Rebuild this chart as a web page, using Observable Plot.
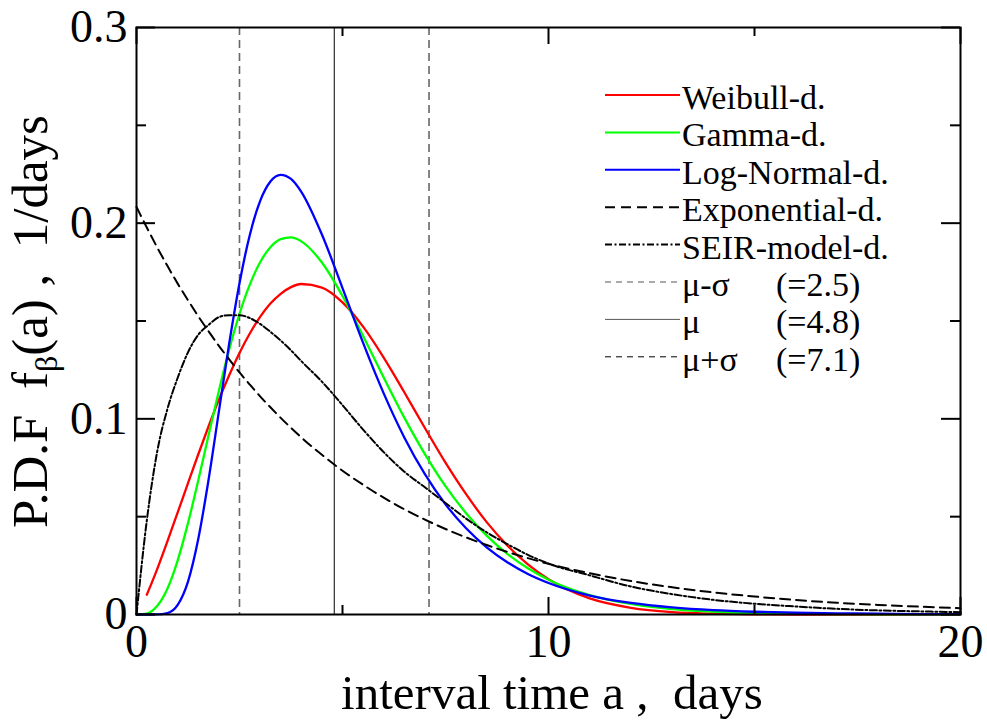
<!DOCTYPE html>
<html><head><meta charset="utf-8">
<script src="https://cdn.jsdelivr.net/npm/d3@7"></script>
<script src="https://cdn.jsdelivr.net/npm/@observablehq/plot@0.6"></script>
<style>
body{margin:0;background:#fff;}
#chart{position:relative;width:987px;height:722px;}
svg text{white-space:pre;}
</style></head><body><div id="chart"></div>
<script>
// interval time a (days)
const xDays = [0,0.25,0.5,0.75,1,1.25,1.5,1.75,2,2.25,2.5,2.75,3,3.25,3.5,3.75,4,4.5,5,5.5,6,6.5,7,7.5,8,8.5,9,9.5,10,11,12,13,14,15,16,17,18,19,20];
const weibull = [null,0.0101,0.0231,0.0374,0.0522,0.0671,0.0819,0.0962,0.1098,0.1223,0.1337,0.1436,0.1521,0.1589,0.1639,0.1673,0.1689,0.1671,0.1595,0.1471,0.1313,0.1136,0.0953,0.0776,0.0615,0.0472,0.0353,0.0256,0.0180,0.0082,0.0034,0.0012,0.0004,0.0001,0,0,0,0,0];
const gamma = [0,0.0005,0.0043,0.0132,0.0277,0.0467,0.0686,0.0917,0.1144,0.1354,0.1537,0.1686,0.1800,0.1877,0.1918,0.1927,0.1907,0.1799,0.1628,0.1423,0.1211,0.1006,0.0820,0.0656,0.0518,0.0403,0.0310,0.0236,0.0178,0.0099,0.0054,0.0028,0.0015,0.0007,0.0004,0.0002,0.0001,0.00004,0.00002];
const logNormal = [0,0,0.00002,0.0007,0.0049,0.0168,0.0387,0.0690,0.1038,0.1385,0.1693,0.1940,0.2113,0.2213,0.2247,0.2226,0.2160,0.1942,0.1668,0.1388,0.1130,0.0905,0.0717,0.0563,0.0441,0.0343,0.0267,0.0207,0.0161,0.0097,0.0059,0.0036,0.0022,0.0014,0.0009,0.0006,0.0004,0.0002,0.00015];
const exponential = [0.2083,0.1978,0.1877,0.1782,0.1691,0.1606,0.1524,0.1447,0.1373,0.1304,0.1237,0.1175,0.1115,0.1059,0.1005,0.0954,0.0905,0.0816,0.0735,0.0663,0.0597,0.0538,0.0485,0.0437,0.0394,0.0355,0.0320,0.0288,0.0259,0.0211,0.0171,0.0139,0.0113,0.0092,0.0074,0.0060,0.0049,0.0040,0.0032];
const seir = [0,0.048,0.083,0.105,0.121,0.134,0.143,0.148,0.152,0.153,0.153,0.1515,0.1485,0.1445,0.1400,0.1350,0.1295,0.119,0.107,0.0945,0.083,0.073,0.065,0.057,0.049,0.042,0.036,0.0305,0.026,0.020,0.0143,0.0104,0.0075,0.0055,0.0041,0.0029,0.0021,0.0016,0.0012];

const seriesNames = ["Weibull-d.","Gamma-d.","Log-Normal-d.","Exponential-d.","SEIR-model-d."];
const seriesValues = [weibull, gamma, logNormal, exponential, seir];

// reference lines mu-sigma, mu, mu+sigma
const refNames = ["μ-σ","μ","μ+σ"];
const refValues = [2.5, 4.8, 7.1];
const refLabels = ["(=2.5)","(=4.8)","(=7.1)"];

// ticks
const xMajor = [0,10,20];
const xMinor = [5,15];
const xTickLabels = ["0","10","20"];
const yMajor = [0,0.1,0.2,0.3];
const yMinor = [0.05,0.15,0.25];
const yTickLabels = ["0","0.1","0.2","0.3"];

const xTitle = "interval time a ,  days";
const yTitleParts = ["P.D.F  f","β","(a) ,  1/days"];

// styles
const FONT = "'Liberation Serif','Times New Roman',serif";
const seriesStyles = [
  {stroke:"#ff0000", strokeWidth:2.3},
  {stroke:"#00ff00", strokeWidth:2.3},
  {stroke:"#0000ff", strokeWidth:2.3},
  {stroke:"#000", strokeWidth:2, strokeDasharray:"10,6"},
  {stroke:"#000", strokeWidth:2, strokeDasharray:"7,2.5,2,2.5"}
];
const refStyles = [
  {stroke:"#666", strokeWidth:1.6, strokeDasharray:"8,5"},
  {stroke:"#000", strokeWidth:1, strokeDasharray:null},
  {stroke:"#666", strokeWidth:1.6, strokeDasharray:"8,5"}
];
const legendRefStyles = [
  {stroke:"#555", strokeWidth:1, strokeDasharray:"6,5"},
  {stroke:"#555", strokeWidth:1, strokeDasharray:null},
  {stroke:"#000", strokeWidth:1, strokeDasharray:"6,5"}
];

const W = 987, H = 722, mL = 136, mR = 27, mT = 27, mB = 108;
const innerW = W - mL - mR, innerH = H - mT - mB;

const lineMarks = seriesValues.map((vals, i) => {
  const rows = xDays.map((x, j) => ({x, y: vals[j]})).filter(d => d.y != null);
  return Plot.line(rows, {x:"x", y:"y", curve:"monotone-x", ...seriesStyles[i]});
});
const refMarks = refValues.map((v, i) => Plot.ruleX([v], {...refStyles[i]}));

const plot = Plot.plot({
  width: W, height: H,
  marginLeft: mL, marginRight: mR, marginTop: mT, marginBottom: mB,
  style: {fontFamily: FONT, fontSize: "46px", background: "#fff", color: "#000"},
  x: {domain:[0,20]},
  y: {domain:[0,0.3]},
  marks: [
    ...refMarks,
    ...lineMarks,
    Plot.frame({stroke:"#000", strokeWidth:2}),
    Plot.tickX(xMajor, {x:d=>d, insetTop: innerH-17, strokeWidth:2}),
    Plot.tickX(xMinor, {x:d=>d, insetTop: innerH-9, strokeWidth:2}),
    Plot.tickX(xMajor, {x:d=>d, insetBottom: innerH-17, strokeWidth:2}),
    Plot.tickX(xMinor, {x:d=>d, insetBottom: innerH-9, strokeWidth:2}),
    Plot.tickY(yMajor, {y:d=>d, insetRight: innerW-19, strokeWidth:2}),
    Plot.tickY(yMinor, {y:d=>d, insetRight: innerW-10, strokeWidth:2}),
    Plot.tickY(yMajor, {y:d=>d, insetLeft: innerW-19, strokeWidth:2}),
    Plot.tickY(yMinor, {y:d=>d, insetLeft: innerW-10, strokeWidth:2}),
    Plot.axisX(xMajor, {tickSize:0, tickPadding:10, label:null, tickFormat: d => xTickLabels[xMajor.indexOf(d)]}),
    Plot.axisY(yMajor, {tickSize:0, tickPadding:9, label:null, tickFormat: d => yTickLabels[yMajor.indexOf(d)]})
  ]
});
document.getElementById("chart").appendChild(plot);

const svg = d3.select(plot);
// axis titles
svg.append("text").attr("x", 552).attr("y", 709)
  .attr("text-anchor","middle").attr("font-family",FONT).attr("font-size",49).attr("fill","#000")
  .text(xTitle);
const yt = svg.append("text").attr("transform","translate(47,528) rotate(-90)")
  .attr("text-anchor","start").attr("font-family",FONT).attr("font-size",51).attr("fill","#000");
yt.append("tspan").text(yTitleParts[0]);
yt.append("tspan").attr("font-size",32).attr("dy",10).text(yTitleParts[1]);
yt.append("tspan").attr("dy",-10).text(yTitleParts[2]);

// legend
const lg = svg.append("g").attr("font-family",FONT).attr("font-size",34).attr("fill","#000").attr("text-anchor","start");
const legendNames = [...seriesNames, ...refNames];
const legendStyles = [...seriesStyles, ...legendRefStyles];
const legendExtra = [null,null,null,null,null, ...refLabels];
legendNames.forEach((name, i) => {
  const y = 95 + i*37.4;
  const s = legendStyles[i];
  lg.append("line").attr("x1",605).attr("x2",680).attr("y1",y).attr("y2",y)
    .attr("stroke",s.stroke).attr("stroke-width",Math.min(s.strokeWidth,2))
    .attr("stroke-dasharray", s.strokeDasharray);
  lg.append("text").attr("x",682).attr("y",y+14).text(name);
  if (legendExtra[i]) lg.append("text").attr("x",776).attr("y",y+14).text(legendExtra[i]);
});
</script></body></html>
